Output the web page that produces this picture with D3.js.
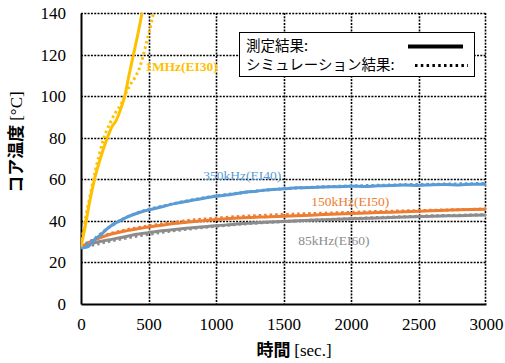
<!DOCTYPE html>
<html>
<head>
<meta charset="utf-8">
<script src="https://cdn.jsdelivr.net/npm/d3@7"></script>
<style>
  html, body { margin: 0; padding: 0; background: #fff; }
  svg { display: block; }
</style>
</head>
<body>
<svg id="chart" width="505" height="363"></svg>
<script>
// Core temperature rise over time for four transformer cores
// Each series: [time (s), temperature (°C)]
const xTicks = [0, 500, 1000, 1500, 2000, 2500, 3000];
const yTicks = [0, 20, 40, 60, 80, 100, 120, 140];

const mhzMeasured = [[0,27.5],[30,37],[67,50],[104,61],[141,69.5],[190,79],[227,85],[262,88.5],[295,94],[326,100.5],[351,108.6],[388,119.8],[425,131],[449,139],[455,141]];
const mhzSim = [[0,28],[30,40],[67,52],[104,63.5],[140,73],[165,79],[215,87],[250,91.5],[300,96.5],[330,101],[360,105],[400,109],[430,113],[459,119],[484,125.5],[509,132],[540,141]];

const k350Measured = [[0,27],[50,27.5],[100,31],[150,33.5],[200,36.5],[250,38.8],[300,40.5],[350,42],[400,43.3],[450,44.4],[500,45.2],[600,46.8],[700,48.4],[800,49.6],[900,50.8],[1000,51.8],[1100,52.6],[1200,53.6],[1300,54.3],[1400,55],[1500,55.4],[1600,55.9],[1700,56],[1800,56.3],[1900,56.4],[2000,56.7],[2100,56.5],[2200,56.9],[2300,57],[2400,57.3],[2500,57],[2600,57.4],[2700,57.5],[2800,57.3],[2900,57.6],[3000,57.6]];
const k350Sim = [[0,27.5],[100,31.5],[200,36.5],[300,40.5],[400,43.5],[500,45.5],[600,47],[700,48.5],[800,49.8],[900,51],[1000,52],[1200,53.6],[1400,55],[1600,55.8],[1800,56.4],[2000,56.8],[2200,57.1],[2400,57.4],[2600,57.6],[2800,57.8],[3000,58]];

const k150Measured = [[0,27.5],[100,30.8],[200,33.2],[300,34.8],[400,36],[500,37],[600,37.9],[700,38.8],[800,39.5],[900,40.1],[1000,40.6],[1200,41.5],[1400,42],[1600,42.5],[1800,43],[2000,43.5],[2200,44],[2400,44.4],[2600,44.9],[2800,45.3],[3000,45.6]];
const k150Sim = [[0,28],[100,31],[200,33.5],[300,35.2],[400,36.5],[600,38.5],[800,40.2],[1000,41.3],[1200,42.2],[1400,42.8],[1600,43.3],[1800,43.7],[2000,44.1],[2200,44.5],[2400,44.8],[2600,45.1],[2800,45.4],[3000,45.7]];

const k85Measured = [[0,27.5],[100,29.5],[200,30.8],[300,32],[400,33.4],[500,34.3],[600,35.2],[800,36.6],[1000,37.6],[1200,38.7],[1400,39.5],[1600,40],[1800,40.5],[2000,41],[2200,41.4],[2400,41.8],[2600,42.2],[2800,42.5],[3000,42.8]];
const k85Sim = [[0,27],[100,28.5],[200,30],[300,31.3],[400,32.5],[500,33.5],[600,34.5],[800,36.1],[1000,37.4],[1200,38.5],[1400,39.3],[1600,40],[1800,40.6],[2000,41.1],[2200,41.6],[2400,42],[2600,42.4],[2800,42.7],[3000,43]];

const seriesLabels = ["1MHz(EI30)", "350kHz(EI40)", "150kHz(EI50)", "85kHz(EI60)"];
const legendLabels = ["測定結果:", "シミュレーション結果:"];

const colors = ["#FFC000", "#5B9BD5", "#ED7D31", "#8C8C8C"];

// label anchors in data units (time, temperature)
const series = [
  { measured: mhzMeasured,  sim: mhzSim,  label: seriesLabels[0], color: colors[0], lx: 475, ly: 112, bold: true },
  { measured: k350Measured, sim: k350Sim, label: seriesLabels[1], color: colors[1], lx: 905, ly: 59.6 },
  { measured: k150Measured, sim: k150Sim, label: seriesLabels[2], color: colors[2], lx: 1705, ly: 47.1 },
  { measured: k85Measured,  sim: k85Sim,  label: seriesLabels[3], color: colors[3], lx: 1610, ly: 28.4 }
];

const margin = { left: 81, top: 13, right: 19, bottom: 59 };
const W = 505, H = 363;
const iw = W - margin.left - margin.right;
const ih = H - margin.top - margin.bottom;

const x = d3.scaleLinear().domain([0, 3000]).range([0, iw]);
const y = d3.scaleLinear().domain([0, 140]).range([ih, 0]);

const serif = "Liberation Serif, Times New Roman, serif";
const sans = "Noto Sans CJK JP, Noto Sans, sans-serif";

const svg = d3.select("#chart");
svg.append("defs").append("clipPath").attr("id", "plotclip")
  .append("rect").attr("x", 0).attr("y", 0).attr("width", iw).attr("height", ih);

const g = svg.append("g").attr("transform", `translate(${margin.left},${margin.top})`);

// dotted grid lines (also form the top and right frame)
const snap = v => Math.round(v) + 0.5;
const gridStyle = sel => sel
  .attr("stroke", "#000").attr("stroke-width", 1.6).attr("stroke-dasharray", "2,1.3");
g.append("g").selectAll("line").data(xTicks.slice(1)).join("line")
  .attr("x1", d => snap(x(d)) - (d === 3000 ? 1 : 0)).attr("x2", d => snap(x(d)) - (d === 3000 ? 1 : 0))
  .attr("y1", 0).attr("y2", ih)
  .call(gridStyle);
g.append("g").selectAll("line").data(yTicks.slice(1)).join("line")
  .attr("x1", 0).attr("x2", iw)
  .attr("y1", d => snap(y(d))).attr("y2", d => snap(y(d)))
  .call(gridStyle);

// axes
const xAxis = g.append("g").attr("transform", `translate(0,${ih})`)
  .call(d3.axisBottom(x).tickValues(xTicks).tickFormat(d3.format("d")).tickSize(0).tickPadding(14));
xAxis.select(".domain").style("stroke", "#000").style("stroke-width", "2px");
xAxis.selectAll(".tick text")
  .style("font-family", serif).style("font-size", "17px").style("fill", "#000");

const yAxis = g.append("g")
  .call(d3.axisLeft(y).tickValues(yTicks).tickFormat(d3.format("d")).tickSize(0).tickPadding(15));
yAxis.select(".domain").style("stroke", "#000").style("stroke-width", "2px");
yAxis.selectAll(".tick text")
  .style("font-family", serif).style("font-size", "17px").style("fill", "#000");

// curves: solid = measured, dotted = simulated
const line = d3.line().x(d => x(d[0])).y(d => y(d[1])).curve(d3.curveMonotoneX);
const curves = g.append("g").attr("clip-path", "url(#plotclip)");
series.slice().reverse().forEach(s => {
  curves.append("path").datum(s.measured)
    .attr("d", line).attr("fill", "none").attr("stroke", s.color)
    .attr("stroke-width", 3).attr("stroke-linejoin", "round");
  curves.append("path").datum(s.sim)
    .attr("d", line).attr("fill", "none").attr("stroke", s.color)
    .attr("stroke-width", 3).attr("stroke-dasharray", "2.5,3");
});

// series labels
series.forEach(s => {
  g.append("text").attr("x", x(s.lx)).attr("y", y(s.ly))
    .style("font-family", serif).style("font-size", "13.5px")
    .style("font-weight", s.bold ? "bold" : "normal")
    .attr("fill", s.color).text(s.label);
});

// legend
const lg = svg.append("g");
lg.append("rect").attr("x", 239.5).attr("y", 32.5).attr("width", 235).attr("height", 44)
  .attr("fill", "#fff").attr("stroke", "#000").attr("stroke-width", 1);
lg.append("text").attr("x", 246).attr("y", 50.5).style("font-family", sans).style("font-size", "14.5px")
  .attr("fill", "#000").text(legendLabels[0]);
lg.append("text").attr("x", 246).attr("y", 69.5).style("font-family", sans).style("font-size", "14.5px")
  .attr("fill", "#000").text(legendLabels[1]);
lg.append("line").attr("x1", 408).attr("x2", 463).attr("y1", 46.5).attr("y2", 46.5)
  .attr("stroke", "#000").attr("stroke-width", 4);
lg.append("line").attr("x1", 415).attr("x2", 468).attr("y1", 65.5).attr("y2", 65.5)
  .attr("stroke", "#000").attr("stroke-width", 3).attr("stroke-dasharray", "2.5,3.3");

// axis titles
const xt = svg.append("text").attr("x", 294).attr("y", 356).attr("text-anchor", "middle").attr("fill", "#000");
xt.append("tspan").style("font-family", sans).style("font-weight", "bold").style("font-size", "17px").text("時間 ");
xt.append("tspan").style("font-family", serif).style("font-size", "17px").text("[sec.]");

const yt = svg.append("text").attr("transform", "translate(22,142) rotate(-90)")
  .attr("text-anchor", "middle").attr("fill", "#000");
yt.append("tspan").style("font-family", sans).style("font-weight", "bold").style("font-size", "17px").text("コア温度 ");
yt.append("tspan").style("font-family", serif).style("font-size", "17px").text("[°C]");
</script>
</body>
</html>
